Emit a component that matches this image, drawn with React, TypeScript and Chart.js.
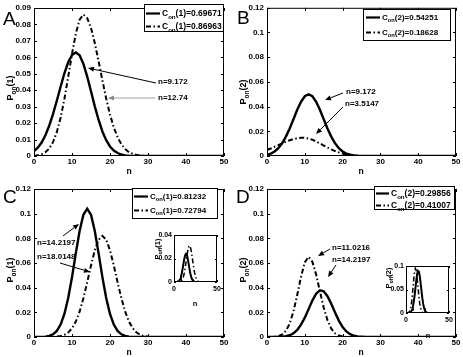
import React, { useEffect, useRef } from "react";
import { Chart, registerables } from "chart.js";
Chart.register(...registerables);

const W = 463;
const H = 357;
const FONT = "'Liberation Sans', Arial, sans-serif";

// n = 0..50
const N = [
  0, 1, 2, 3, 4, 5, 6, 7, 8, 9,
  10, 11, 12, 13, 14, 15, 16, 17, 18, 19,
  20, 21, 22, 23, 24, 25, 26, 27, 28, 29,
  30, 31, 32, 33, 34, 35, 36, 37, 38, 39,
  40, 41, 42, 43, 44, 45, 46, 47, 48, 49,
  50,
];

// Panel A: P_on(1)
const A_SOLID = [
  0.0030, 0.0051, 0.0082, 0.0126, 0.0184, 0.0255, 0.0336, 0.0421, 0.0503, 0.0570,
  0.0614, 0.0630, 0.0612, 0.0560, 0.0483, 0.0394, 0.0302, 0.0219, 0.0149, 0.0096,
  0.0058, 0.0033, 0.0018, 0.0009, 0.0004, 0.0002, 0.0001, 0, 0, 0,
  0, 0, 0, 0, 0, 0, 0, 0, 0, 0,
  0, 0, 0, 0, 0, 0, 0, 0, 0, 0,
  0,
];
const A_DASHED = [
  0.0002, 0.0005, 0.0011, 0.0023, 0.0045, 0.0084, 0.0145, 0.0232, 0.0347, 0.0481,
  0.0620, 0.0744, 0.0829, 0.0860, 0.0839, 0.0778, 0.0687, 0.0576, 0.0460, 0.0350,
  0.0252, 0.0174, 0.0114, 0.0071, 0.0042, 0.0023, 0.0013, 0.0006, 0.0003, 0.0001,
  0, 0, 0, 0, 0, 0, 0, 0, 0, 0,
  0, 0, 0, 0, 0, 0, 0, 0, 0, 0,
  0,
];
// Panel B: P_on(2)
const B_SOLID = [
  0.0010, 0.0020, 0.0037, 0.0063, 0.0103, 0.0157, 0.0223, 0.0298, 0.0374, 0.0439,
  0.0484, 0.0500, 0.0484, 0.0439, 0.0374, 0.0298, 0.0223, 0.0157, 0.0103, 0.0063,
  0.0037, 0.0020, 0.0010, 0.0005, 0.0002, 0.0001, 0, 0, 0, 0,
  0, 0, 0, 0, 0, 0, 0, 0, 0, 0,
  0, 0, 0, 0, 0, 0, 0, 0, 0, 0,
  0,
];
const B_DASHED = [
  0.0049, 0.0061, 0.0075, 0.0088, 0.0102, 0.0116, 0.0127, 0.0137, 0.0144, 0.0148,
  0.0147, 0.0142, 0.0132, 0.0118, 0.0102, 0.0085, 0.0069, 0.0053, 0.0040, 0.0029,
  0.0020, 0.0013, 0.0009, 0.0005, 0.0003, 0.0001, 0, 0, 0, 0,
  0, 0, 0, 0, 0, 0, 0, 0, 0, 0,
  0, 0, 0, 0, 0, 0, 0, 0, 0, 0,
  0,
];
// Panel C: P_on(1)
const C_SOLID = [
  0, 0, 0, 0.0003, 0.0009, 0.0022, 0.0049, 0.0101, 0.0187, 0.0316,
  0.0485, 0.0678, 0.0860, 0.0991, 0.1040, 0.0991, 0.0860, 0.0678, 0.0485, 0.0316,
  0.0187, 0.0101, 0.0049, 0.0022, 0.0009, 0.0003, 0, 0, 0, 0,
  0, 0, 0, 0, 0, 0, 0, 0, 0, 0,
  0, 0, 0, 0, 0, 0, 0, 0, 0, 0,
  0,
];
const C_DASHED = [
  0, 0, 0, 0, 0, 0, 0.0003, 0.0008, 0.0017, 0.0036,
  0.0070, 0.0125, 0.0205, 0.0314, 0.0443, 0.0580, 0.0703, 0.0789, 0.0820, 0.0789,
  0.0703, 0.0580, 0.0443, 0.0314, 0.0205, 0.0125, 0.0070, 0.0036, 0.0017, 0.0007,
  0.0003, 0, 0, 0, 0, 0, 0, 0, 0, 0,
  0, 0, 0, 0, 0, 0, 0, 0, 0, 0,
  0,
];
// Panel C inset: P_off(1)
const C_INSET_SOLID = [
  0, 0, 0, 0, 0.0002, 0.0005, 0.0011, 0.0023, 0.0043, 0.0073,
  0.0112, 0.0156, 0.0198, 0.0229, 0.0240, 0.0229, 0.0198, 0.0156, 0.0112, 0.0073,
  0.0043, 0.0023, 0.0011, 0.0005, 0.0002, 0, 0, 0, 0, 0,
  0, 0, 0, 0, 0, 0, 0, 0, 0, 0,
  0, 0, 0, 0, 0, 0, 0, 0, 0, 0,
  0,
];
const C_INSET_DASHED = [
  0, 0, 0, 0, 0, 0, 0, 0.0003, 0.0006, 0.0014,
  0.0026, 0.0047, 0.0077, 0.0119, 0.0167, 0.0219, 0.0266, 0.0298, 0.0310, 0.0298,
  0.0266, 0.0219, 0.0167, 0.0119, 0.0077, 0.0047, 0.0026, 0.0014, 0.0006, 0.0003,
  0, 0, 0, 0, 0, 0, 0, 0, 0, 0,
  0, 0, 0, 0, 0, 0, 0, 0, 0, 0,
  0,
];
// Panel D: P_on(2)
const D_SOLID = [
  0, 0, 0, 0, 0.0002, 0.0006, 0.0014, 0.0030, 0.0057, 0.0100,
  0.0157, 0.0226, 0.0295, 0.0351, 0.0378, 0.0371, 0.0331, 0.0269, 0.0198, 0.0133,
  0.0081, 0.0045, 0.0023, 0.0010, 0.0004, 0.0002, 0, 0, 0, 0,
  0, 0, 0, 0, 0, 0, 0, 0, 0, 0,
  0, 0, 0, 0, 0, 0, 0, 0, 0, 0,
  0,
];
const D_DASHED = [
  0, 0, 0.0002, 0.0007, 0.0020, 0.0050, 0.0109, 0.0207, 0.0342, 0.0488,
  0.0605, 0.0650, 0.0610, 0.0506, 0.0370, 0.0239, 0.0136, 0.0068, 0.0030, 0.0012,
  0.0004, 0.0001, 0, 0, 0, 0, 0, 0, 0, 0,
  0, 0, 0, 0, 0, 0, 0, 0, 0, 0,
  0, 0, 0, 0, 0, 0, 0, 0, 0, 0,
  0,
];
// Panel D inset: P_off(2)
const D_INSET_SOLID = [
  0, 0, 0, 0, 0, 0.0014, 0.0033, 0.0071, 0.0135, 0.0237,
  0.0372, 0.0536, 0.0699, 0.0832, 0.0896, 0.0879, 0.0784, 0.0638, 0.0469, 0.0315,
  0.0192, 0.0107, 0.0055, 0.0024, 0.0009, 0.0004, 0, 0, 0, 0,
  0, 0, 0, 0, 0, 0, 0, 0, 0, 0,
  0, 0, 0, 0, 0, 0, 0, 0, 0, 0,
  0,
];
const D_INSET_DASHED = [
  0, 0, 0, 0.0010, 0.0029, 0.0073, 0.0159, 0.0302, 0.0500, 0.0713,
  0.0884, 0.0950, 0.0891, 0.0739, 0.0540, 0.0349, 0.0199, 0.0099, 0.0044, 0.0018,
  0.0006, 0, 0, 0, 0, 0, 0, 0, 0, 0,
  0, 0, 0, 0, 0, 0, 0, 0, 0, 0,
  0, 0, 0, 0, 0, 0, 0, 0, 0, 0,
  0,
];

const A_LEGEND = ["(1)=0.69671", "(1)=0.86963"];
const B_LEGEND = ["(2)=0.54251", "(2)=0.18628"];
const C_LEGEND = ["(1)=0.81232", "(1)=0.72794"];
const D_LEGEND = ["(2)=0.29856", "(2)=0.41007"];

const A_NOTES = ["n=9.172", "n=12.74"];
const B_NOTES = ["n=9.172", "n=3.5147"];
const C_NOTES = ["n=14.2197", "n=18.0148"];
const D_NOTES = ["n=11.0216", "n=14.2197"];

const DASH = [5, 2.5, 1.5, 2.5];

type Seg = { t: string; sub?: boolean };

function segsWidth(ctx: CanvasRenderingContext2D, segs: Seg[], size: number) {
  let w = 0;
  for (const s of segs) {
    ctx.font = `bold ${s.sub ? size * 0.72 : size}px ${FONT}`;
    w += ctx.measureText(s.t).width;
  }
  return w;
}

function drawSegs(
  ctx: CanvasRenderingContext2D,
  segs: Seg[],
  x: number,
  y: number,
  size: number,
  align: "left" | "center" = "left"
) {
  let cx = align === "center" ? x - segsWidth(ctx, segs, size) / 2 : x;
  ctx.textAlign = "left";
  ctx.textBaseline = "alphabetic";
  ctx.fillStyle = "#000";
  for (const s of segs) {
    const fs = s.sub ? size * 0.72 : size;
    ctx.font = `bold ${fs}px ${FONT}`;
    ctx.fillText(s.t, cx, s.sub ? y + size * 0.3 : y);
    cx += ctx.measureText(s.t).width;
  }
}

function drawArrow(
  ctx: CanvasRenderingContext2D,
  x1: number, y1: number, x2: number, y2: number,
  color: string, lw: number
) {
  const ang = Math.atan2(y2 - y1, x2 - x1);
  const L = 6;
  const hw = 2.5;
  const bx = x2 - L * Math.cos(ang);
  const by = y2 - L * Math.sin(ang);
  ctx.save();
  ctx.strokeStyle = color;
  ctx.fillStyle = color;
  ctx.lineWidth = lw;
  ctx.setLineDash([]);
  ctx.beginPath();
  ctx.moveTo(x1, y1);
  ctx.lineTo(bx, by);
  ctx.stroke();
  ctx.beginPath();
  ctx.moveTo(x2, y2);
  ctx.lineTo(bx + hw * Math.sin(ang), by - hw * Math.cos(ang));
  ctx.lineTo(bx - hw * Math.sin(ang), by + hw * Math.cos(ang));
  ctx.closePath();
  ctx.fill();
  ctx.restore();
}

interface Spec {
  area: { l: number; t: number; r: number; b: number };
  yMax: number;
  yStep: number;
  xStep: number;
  tickSize: number;
  yPad: number;
  xPad: number;
  tickLen: number;
  inset?: boolean;
  series: { data: number[]; dash: boolean; w: number }[];
  letter?: { t: string; x: number; y: number };
  yTitle: { segs: Seg[]; x: number; y: number; size: number };
  xTitle: { x: number; y: number; size: number };
  legend?: {
    x: number; y: number; w: number; h: number; size: number;
    lineX: [number, number]; textX: number; rows: number[]; labels: string[];
  };
  notes?: { t: string; x: number; y: number }[];
  arrows?: { x1: number; y1: number; x2: number; y2: number; color: string; lw: number }[];
}

const P_ON = (k: string): Seg[] => [{ t: "P" }, { t: "on", sub: true }, { t: `(${k})` }];
const P_OFF = (k: string): Seg[] => [{ t: "P" }, { t: "off", sub: true }, { t: `(${k})` }];

const NOTE_SIZE = 8;

const SPECS: Spec[] = [
  {
    area: { l: 34, t: 8, r: 224, b: 156 },
    yMax: 0.09, yStep: 0.01, xStep: 10, tickSize: 8, yPad: 3, xPad: 1, tickLen: 3,
    series: [{ data: A_SOLID, dash: false, w: 2.4 }, { data: A_DASHED, dash: true, w: 2 }],
    letter: { t: "A", x: 3, y: 25 },
    yTitle: { segs: P_ON("1"), x: 10, y: 88, size: 9 },
    xTitle: { x: 129, y: 174, size: 8.5 },
    legend: { x: 144, y: 4, w: 80, h: 28, size: 8.5, lineX: [146, 160], textX: 162, rows: [13, 26], labels: A_LEGEND },
    notes: [{ t: A_NOTES[0], x: 158, y: 82 }, { t: A_NOTES[1], x: 158, y: 98 }],
    arrows: [
      { x1: 156, y1: 83, x2: 88, y2: 68, color: "#000", lw: 1 },
      { x1: 155, y1: 98, x2: 108, y2: 98, color: "#888", lw: 0.8 },
    ],
  },
  {
    area: { l: 267, t: 7, r: 456, b: 156 },
    yMax: 0.12, yStep: 0.02, xStep: 10, tickSize: 8, yPad: 3, xPad: 1, tickLen: 3,
    series: [{ data: B_SOLID, dash: false, w: 2.4 }, { data: B_DASHED, dash: true, w: 2 }],
    letter: { t: "B", x: 237, y: 24 },
    yTitle: { segs: P_ON("2"), x: 243, y: 92, size: 9 },
    xTitle: { x: 361, y: 174, size: 8.5 },
    legend: { x: 363, y: 9, w: 88, h: 32, size: 8, lineX: [366, 380], textX: 382, rows: [17, 32], labels: B_LEGEND },
    notes: [{ t: B_NOTES[0], x: 346, y: 92 }, { t: B_NOTES[1], x: 345, y: 104 }],
    arrows: [
      { x1: 343, y1: 93, x2: 325, y2: 100, color: "#000", lw: 1 },
      { x1: 343, y1: 107, x2: 316, y2: 134, color: "#000", lw: 1 },
    ],
  },
  {
    area: { l: 34, t: 189, r: 224, b: 337 },
    yMax: 0.12, yStep: 0.02, xStep: 10, tickSize: 8, yPad: 3, xPad: 1, tickLen: 3,
    series: [{ data: C_SOLID, dash: false, w: 2.4 }, { data: C_DASHED, dash: true, w: 2 }],
    letter: { t: "C", x: 3, y: 203 },
    yTitle: { segs: P_ON("1"), x: 10, y: 270, size: 9 },
    xTitle: { x: 129, y: 355, size: 8.5 },
    legend: { x: 132, y: 188, w: 86, h: 31, size: 8, lineX: [134, 148], textX: 150, rows: [196, 210], labels: C_LEGEND },
    notes: [{ t: C_NOTES[0], x: 37, y: 243 }, { t: C_NOTES[1], x: 37, y: 257 }],
    arrows: [
      { x1: 63, y1: 236, x2: 79, y2: 224, color: "#000", lw: 1 },
      { x1: 60, y1: 263, x2: 90, y2: 272, color: "#000", lw: 1 },
    ],
  },
  {
    area: { l: 267, t: 189, r: 456, b: 337 },
    yMax: 0.12, yStep: 0.02, xStep: 10, tickSize: 8, yPad: 3, xPad: 1, tickLen: 3,
    series: [{ data: D_SOLID, dash: false, w: 2.4 }, { data: D_DASHED, dash: true, w: 2 }],
    letter: { t: "D", x: 236, y: 203 },
    yTitle: { segs: P_ON("2"), x: 243, y: 270, size: 9 },
    xTitle: { x: 361, y: 355, size: 8.5 },
    legend: { x: 374, y: 186, w: 81, h: 24, size: 8.5, lineX: [376, 389], textX: 391, rows: [193, 205], labels: D_LEGEND },
    notes: [{ t: D_NOTES[0], x: 332, y: 248 }, { t: D_NOTES[1], x: 332, y: 260 }],
    arrows: [
      { x1: 330, y1: 249, x2: 318, y2: 256, color: "#000", lw: 1 },
      { x1: 336, y1: 265, x2: 328, y2: 277, color: "#000", lw: 1 },
    ],
  },
  {
    area: { l: 174, t: 235, r: 217, b: 282 },
    yMax: 0.04, yStep: 0.02, xStep: 50, tickSize: 7, yPad: 2, xPad: 3, tickLen: 2, inset: true,
    series: [{ data: C_INSET_SOLID, dash: false, w: 2 }, { data: C_INSET_DASHED, dash: true, w: 1.5 }],
    yTitle: { segs: P_OFF("1"), x: 157, y: 249, size: 7.5 },
    xTitle: { x: 195, y: 306, size: 7.5 },
  },
  {
    area: { l: 406, t: 266, r: 449, b: 313 },
    yMax: 0.1, yStep: 0.05, xStep: 50, tickSize: 7, yPad: 2, xPad: 3, tickLen: 2, inset: true,
    series: [{ data: D_INSET_SOLID, dash: false, w: 2 }, { data: D_INSET_DASHED, dash: true, w: 1.5 }],
    yTitle: { segs: P_OFF("2"), x: 388, y: 278, size: 7.5 },
    xTitle: { x: 428, y: 338, size: 7.5 },
  },
];

function makePlugin(spec: Spec) {
  return {
    id: "frame",
    beforeDatasetsDraw(chart: any) {
      if (!spec.inset) return;
      const { left, top, right, bottom } = chart.chartArea;
      const ctx = chart.ctx as CanvasRenderingContext2D;
      ctx.save();
      ctx.fillStyle = "#fff";
      ctx.fillRect(left, top, right - left, bottom - top);
      ctx.restore();
    },
    afterDatasetsDraw(chart: any) {
      const ctx = chart.ctx as CanvasRenderingContext2D;
      const { left, top, right, bottom } = chart.chartArea;
      const xs = chart.scales.x;
      const ys = chart.scales.y;
      ctx.save();
      ctx.strokeStyle = "#000";
      ctx.lineWidth = 1;
      ctx.setLineDash([]);
      ctx.strokeRect(left + 0.5, top + 0.5, right - left - 1, bottom - top - 1);
      const L = spec.tickLen;
      ctx.beginPath();
      for (const t of xs.ticks) {
        const px = Math.round(xs.getPixelForValue(t.value)) + 0.5;
        ctx.moveTo(px, bottom);
        ctx.lineTo(px, bottom - L);
        ctx.moveTo(px, top);
        ctx.lineTo(px, top + L);
      }
      for (const t of ys.ticks) {
        const py = Math.round(ys.getPixelForValue(t.value)) + 0.5;
        ctx.moveTo(left, py);
        ctx.lineTo(left + L, py);
        ctx.moveTo(right, py);
        ctx.lineTo(right - L, py);
      }
      ctx.stroke();
      ctx.restore();
    },
    afterDraw(chart: any) {
      const ctx = chart.ctx as CanvasRenderingContext2D;
      ctx.save();
      const yt = spec.yTitle;
      ctx.save();
      ctx.translate(yt.x, yt.y);
      ctx.rotate(-Math.PI / 2);
      drawSegs(ctx, yt.segs, 0, yt.size * 0.35, yt.size, "center");
      ctx.restore();
      ctx.fillStyle = "#000";
      ctx.font = `bold ${spec.xTitle.size}px ${FONT}`;
      ctx.textAlign = "center";
      ctx.textBaseline = "alphabetic";
      ctx.fillText("n", spec.xTitle.x, spec.xTitle.y);
      if (spec.letter) {
        ctx.font = `normal 19px ${FONT}`;
        ctx.textAlign = "left";
        ctx.textBaseline = "alphabetic";
        ctx.fillStyle = "#000";
        ctx.fillText(spec.letter.t, spec.letter.x, spec.letter.y);
      }
      if (spec.notes) {
        for (const n of spec.notes) {
          ctx.font = `bold ${NOTE_SIZE}px ${FONT}`;
          ctx.textAlign = "left";
          ctx.textBaseline = "middle";
          ctx.fillStyle = "#000";
          ctx.fillText(n.t, n.x, n.y);
        }
      }
      if (spec.arrows) {
        for (const a of spec.arrows) drawArrow(ctx, a.x1, a.y1, a.x2, a.y2, a.color, a.lw);
      }
      const lg = spec.legend;
      if (lg) {
        ctx.fillStyle = "#fff";
        ctx.fillRect(lg.x, lg.y, lg.w, lg.h);
        ctx.strokeStyle = "#000";
        ctx.lineWidth = 1;
        ctx.setLineDash([]);
        ctx.strokeRect(lg.x + 0.5, lg.y + 0.5, lg.w - 1, lg.h - 1);
        lg.rows.forEach((ry, i) => {
          ctx.save();
          ctx.strokeStyle = "#000";
          ctx.lineWidth = i === 0 ? 2.2 : 1.8;
          ctx.setLineDash(i === 0 ? [] : DASH);
          ctx.beginPath();
          ctx.moveTo(lg.lineX[0], ry + 0.5);
          ctx.lineTo(lg.lineX[1], ry + 0.5);
          ctx.stroke();
          ctx.restore();
          drawSegs(ctx, [{ t: "C" }, { t: "on", sub: true }, { t: lg.labels[i] }], lg.textX, ry + lg.size * 0.35, lg.size);
        });
      }
      ctx.restore();
    },
  };
}

function makeChart(canvas: HTMLCanvasElement, spec: Spec) {
  const yW = 30;
  const xH = 16;
  const { l, t, r, b } = spec.area;
  const tickFont = { family: FONT, size: spec.tickSize, weight: "bold" as const };
  return new Chart(canvas, {
    type: "line",
    data: {
      labels: N,
      datasets: spec.series.map((s) => ({
        data: s.data,
        borderColor: "#000",
        backgroundColor: "#000",
        borderWidth: s.w,
        borderDash: s.dash ? DASH : [],
        pointRadius: 0,
        tension: 0,
        fill: false,
      })),
    },
    options: {
      animation: false,
      responsive: false,
      devicePixelRatio: 1,
      events: [],
      layout: { padding: { left: l - yW, top: t, right: W - r, bottom: H - b - xH } },
      plugins: { legend: { display: false }, tooltip: { enabled: false }, title: { display: false } },
      scales: {
        x: {
          type: "linear",
          min: 0,
          max: 50,
          grid: { display: false, drawTicks: false },
          border: { display: false },
          ticks: {
            stepSize: spec.xStep,
            padding: spec.xPad,
            font: tickFont,
            color: "#000",
            maxRotation: 0,
            autoSkip: false,
          },
          afterFit: (s: any) => {
            s.height = xH;
          },
        },
        y: {
          type: "linear",
          min: 0,
          max: spec.yMax,
          grid: { display: false, drawTicks: false },
          border: { display: false },
          ticks: {
            stepSize: spec.yStep,
            padding: spec.yPad,
            font: tickFont,
            color: "#000",
            autoSkip: false,
            callback: (v: any) => String(Math.round(Number(v) * 10000) / 10000),
          },
          afterFit: (s: any) => {
            s.width = yW;
          },
        },
      },
    } as any,
    plugins: [makePlugin(spec)],
  });
}

export default function App() {
  const refs = useRef<(HTMLCanvasElement | null)[]>([]);
  useEffect(() => {
    const charts = SPECS.map((s, i) => makeChart(refs.current[i] as HTMLCanvasElement, s));
    return () => charts.forEach((c) => c.destroy());
  }, []);
  return (
    <div
      style={{
        position: "fixed",
        left: 0,
        top: 0,
        width: W,
        height: H,
        background: "#fff",
        overflow: "hidden",
      }}
    >
      {SPECS.map((_, i) => (
        <canvas
          key={i}
          ref={(el) => {
            refs.current[i] = el;
          }}
          width={W}
          height={H}
          style={{ position: "absolute", left: 0, top: 0, width: W, height: H }}
        />
      ))}
    </div>
  );
}
